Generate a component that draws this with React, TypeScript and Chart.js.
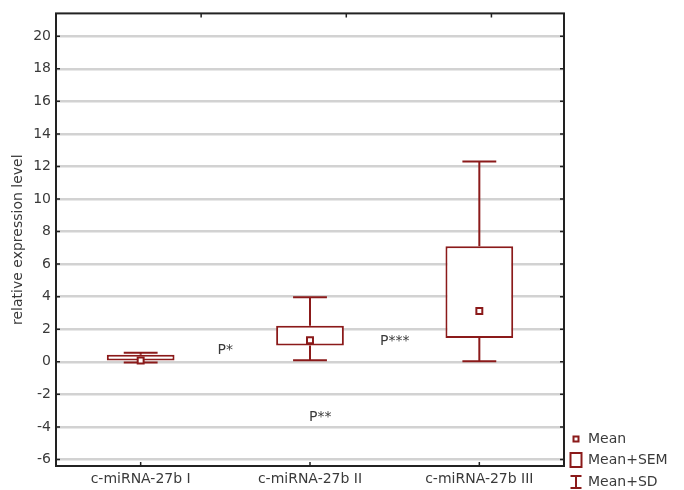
import React, { useEffect, useRef } from "react";
import { Chart, registerables } from "chart.js";

Chart.register(...registerables);

const categories = ["c-miRNA-27b I", "c-miRNA-27b II", "c-miRNA-27b III"];
const meanValues = [0.08, 1.32, 3.12];
const semLow = [0.0, 1.0, 1.46];
const semHigh = [0.44, 2.22, 7.1];
const sdLow = [-0.05, 0.1, 0.04];
const sdHigh = [0.55, 3.96, 12.3];
const yTicks = [-6, -4, -2, 0, 2, 4, 6, 8, 10, 12, 14, 16, 18, 20];
const yMin = -6.4;
const yMax = 21.4;
const topTickFractions = [2 / 7, 4 / 7, 6 / 7];
const annotationText = ["P*", "P***", "P**"];
const annotationX = [0.5, 1.5, 1.06];
const annotationY = [0.72, 1.27, -3.4];
const legendLabels = ["Mean", "Mean+SEM", "Mean+SD"];

const RED = "#8B1A1A";
const FONT = "'DejaVu Sans', sans-serif";
const TEXT = "#3a3a3a";

const whiskerPlugin = {
  id: "whiskers",
  beforeDatasetsDraw(chart: any) {
    const { ctx } = chart;
    const xs = chart.scales.x;
    const ys = chart.scales.y;
    const meta = chart.getDatasetMeta(0);
    ctx.save();
    ctx.strokeStyle = RED;
    ctx.lineWidth = 2;
    categories.forEach((_, i) => {
      const x = xs.getPixelForValue(i);
      const bw = meta.data[i] ? meta.data[i].width : 68;
      const half = bw / 4;
      const yTop = ys.getPixelForValue(sdHigh[i]);
      const yBot = ys.getPixelForValue(sdLow[i]);
      const yB1 = ys.getPixelForValue(semHigh[i]);
      const yB2 = ys.getPixelForValue(semLow[i]);
      ctx.beginPath();
      ctx.moveTo(x, yTop);
      ctx.lineTo(x, yB1);
      ctx.moveTo(x, yB2);
      ctx.lineTo(x, yBot);
      ctx.moveTo(x - half, yTop);
      ctx.lineTo(x + half, yTop);
      ctx.moveTo(x - half, yBot);
      ctx.lineTo(x + half, yBot);
      ctx.stroke();
    });
    ctx.restore();
  },
};

const framePlugin = {
  id: "frame",
  afterDraw(chart: any) {
    const { ctx, chartArea: a } = chart;
    const xs = chart.scales.x;
    const ys = chart.scales.y;
    ctx.save();
    ctx.strokeStyle = "#222";
    ctx.lineWidth = 2;
    ctx.strokeRect(a.left, a.top, a.right - a.left, a.bottom - a.top);
    ctx.lineWidth = 1.5;
    ctx.beginPath();
    yTicks.forEach((v) => {
      const y = ys.getPixelForValue(v);
      ctx.moveTo(a.left, y);
      ctx.lineTo(a.left + 4, y);
      ctx.moveTo(a.right, y);
      ctx.lineTo(a.right - 4, y);
    });
    categories.forEach((_, i) => {
      const x = xs.getPixelForValue(i);
      ctx.moveTo(x, a.bottom);
      ctx.lineTo(x, a.bottom - 4);
    });
    topTickFractions.forEach((f) => {
      const x = a.left + f * (a.right - a.left);
      ctx.moveTo(x, a.top);
      ctx.lineTo(x, a.top + 4);
    });
    ctx.stroke();

    // annotations
    ctx.fillStyle = TEXT;
    ctx.font = `14px ${FONT}`;
    ctx.textAlign = "center";
    ctx.textBaseline = "middle";
    annotationText.forEach((t, i) => {
      ctx.fillText(t, xs.getPixelForValue(annotationX[i]), ys.getPixelForValue(annotationY[i]));
    });

    // legend
    const sx = a.right + 12;
    const tx = a.right + 24;
    const rows = [a.bottom - 27, a.bottom - 6, a.bottom + 16];
    ctx.strokeStyle = RED;
    ctx.lineWidth = 2;
    ctx.strokeRect(sx - 2.5, rows[0] - 2.5, 5, 5);
    ctx.strokeRect(sx - 5.5, rows[1] - 7, 11, 14);
    ctx.beginPath();
    ctx.moveTo(sx - 5.5, rows[2] - 6);
    ctx.lineTo(sx + 5.5, rows[2] - 6);
    ctx.moveTo(sx, rows[2] - 6);
    ctx.lineTo(sx, rows[2] + 6);
    ctx.moveTo(sx - 5.5, rows[2] + 6);
    ctx.lineTo(sx + 5.5, rows[2] + 6);
    ctx.stroke();
    ctx.fillStyle = TEXT;
    ctx.textAlign = "left";
    legendLabels.forEach((t, i) => ctx.fillText(t, tx, rows[i]));
    ctx.restore();
  },
};

export default function App() {
  const ref = useRef<HTMLCanvasElement | null>(null);
  useEffect(() => {
    document.body.style.margin = "0";
    const canvas = ref.current;
    if (!canvas) return;
    const chart = new Chart(canvas, {
      type: "bar",
      data: {
        labels: categories,
        datasets: [
          {
            type: "bar",
            data: categories.map((_, i) => [semLow[i], semHigh[i]]) as any,
            backgroundColor: "#ffffff",
            borderColor: RED,
            borderWidth: 2,
            borderSkipped: false,
            barPercentage: 0.4,
            categoryPercentage: 1.0,
            order: 2,
          },
          {
            type: "line",
            data: meanValues,
            showLine: false,
            pointStyle: "rect",
            pointRadius: 4.2,
            pointBorderWidth: 2,
            pointBackgroundColor: "#ffffff",
            pointBorderColor: RED,
            order: 1,
          } as any,
        ],
      },
      options: {
        animation: false,
        responsive: false,
        devicePixelRatio: 1,
        layout: { padding: { top: 10, right: 120, left: 0, bottom: 0 } },
        plugins: { legend: { display: false }, tooltip: { enabled: false } },
        scales: {
          x: {
            type: "category",
            offset: true,
            grid: { display: false, drawTicks: false },
            border: { display: false },
            ticks: { color: TEXT, font: { family: FONT, size: 14 }, padding: 5, maxRotation: 0 },
            afterFit: (s: any) => {
              s.height = 24;
            },
          },
          y: {
            type: "linear",
            min: yMin,
            max: yMax,
            grid: { color: "#d2d2d2", lineWidth: 2.5, drawTicks: false },
            border: { display: false },
            ticks: { color: TEXT, font: { family: FONT, size: 14 }, padding: 5 },
            afterBuildTicks: (s: any) => {
              s.ticks = yTicks.map((v) => ({ value: v }));
            },
            title: {
              display: true,
              text: "relative expression level",
              color: TEXT,
              font: { family: FONT, size: 14 },
              padding: { top: 10, bottom: 0 },
            },
            afterFit: (s: any) => {
              s.width = 56;
            },
          },
        },
      },
      plugins: [whiskerPlugin, framePlugin],
    });
    return () => chart.destroy();
  }, []);
  return (
    <div style={{ width: 684, height: 490 }}>
      <canvas ref={ref} width={684} height={490} style={{ display: "block" }} />
    </div>
  );
}
